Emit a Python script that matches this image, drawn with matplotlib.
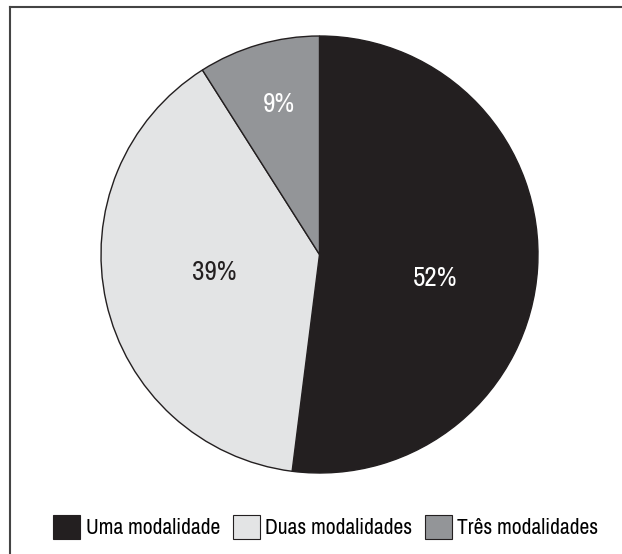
import matplotlib.pyplot as plt
import numpy as np
from matplotlib import font_manager
from matplotlib.patches import Patch
from matplotlib.lines import Line2D

categorias = ['Uma modalidade', 'Duas modalidades', 'Três modalidades']
valores = [52, 39, 9]
cores = ['#231f20', '#e3e4e5', '#939598']
cor_texto = ['white', '#231f20', 'white']
# (distancia radial, desvio angular em graus) de cada rotulo
pos_rotulo = [(0.538, -7.0), (0.488, -4.5), (0.721, -1.1)]

# procura uma fonte estreita instalada
estreitas = sorted({f.name for f in font_manager.fontManager.ttflist
                    if 'Narrow' in f.name or 'Condensed' in f.name})
fonte = estreitas[0] if estreitas else 'Liberation Sans'
plt.rcParams['font.family'] = [fonte, 'DejaVu Sans']

fig = plt.figure(figsize=(6.22, 5.54), dpi=100)
ax = fig.add_axes([101/622, 81/554, 437/622, 437/554])

wedges, _ = ax.pie(valores, colors=cores, startangle=90, counterclock=False,
                   wedgeprops=dict(edgecolor='#231f20', linewidth=1.0))
ax.set_xlim(-1, 1)
ax.set_ylim(-1, 1)

for w, v, c, (d, da) in zip(wedges, valores, cor_texto, pos_rotulo):
    ang = np.deg2rad((w.theta1 + w.theta2) / 2 + da)
    ax.text(d * np.cos(ang), d * np.sin(ang), f'{v}%', color=c,
            fontsize=19.5, ha='center', va='center_baseline')

# moldura (linhas superior e esquerda)
fig.add_artist(Line2D([10/622, 10/622], [0, 1 - 7/554], transform=fig.transFigure,
                      color='#444444', linewidth=1.5))
fig.add_artist(Line2D([10/622, 1], [1 - 7/554, 1 - 7/554], transform=fig.transFigure,
                      color='#444444', linewidth=1.5))

handles = [Patch(facecolor=c, edgecolor='#231f20', linewidth=0.8) for c in cores]
fig.legend(handles, categorias, loc='center', bbox_to_anchor=(0.524, 1 - 527/554),
           ncol=3, frameon=False, fontsize=15.5, handlelength=1.25, handleheight=1.3,
           handletextpad=0.25, columnspacing=0.6, borderpad=0)

fig.savefig('out.png', dpi=100)
